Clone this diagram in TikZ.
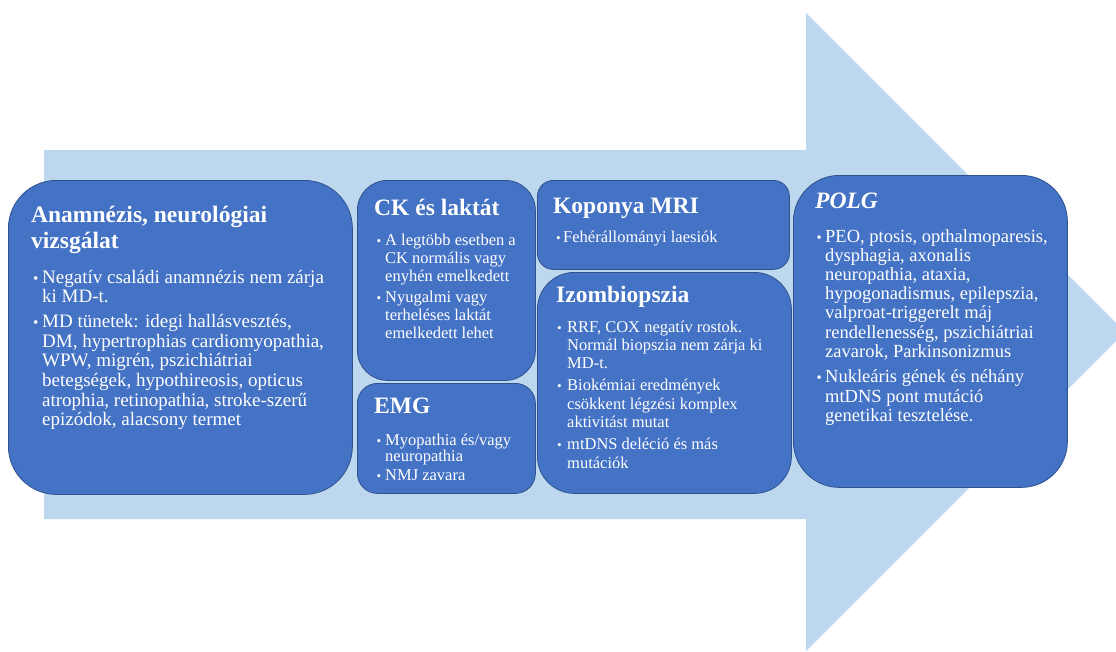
\documentclass[tikz,border=0pt]{standalone}
\usepackage{fontspec}
\setmainfont{Liberation Serif}
\usepackage{graphicx}
\definecolor{arrowc}{HTML}{BDD7EE}
\definecolor{boxc}{HTML}{4472C4}
\definecolor{boxl}{HTML}{2F528F}
\newcommand\bl{\scalebox{0.8}{\textbullet}}
\newcommand\bb[1]{\makebox[#1][l]{\bl}}
\tikzset{
  panel/.style={draw=boxl, line width=0.8pt, fill=boxc, inner sep=0pt, anchor=north west},
  ttl/.style={text=white, anchor=base west, inner sep=0pt, font=\fontsize{23.5}{26}\selectfont\bfseries},
  bod/.style={text=white, anchor=base west, inner sep=0pt},
}
\begin{document}
\begin{tikzpicture}[x=1pt,y=-1pt]
\useasboundingbox (0,0) rectangle (1116,651);
\clip (0,0) rectangle (1116,651);
% big arrow
\fill[arrowc] (44,150) -- (806,150) -- (806,13) -- (1125,332) -- (806,651) -- (806,519) -- (44,519) -- cycle;
% panels
\node[panel, minimum width=344pt, minimum height=314pt, rounded corners=48pt] (b1) at (8,180) {};
\node[panel, minimum width=178pt, minimum height=200pt, rounded corners=30pt] (b2) at (357,180) {};
\node[panel, minimum width=178pt, minimum height=110pt, rounded corners=20pt] (b3) at (357,383) {};
\node[panel, minimum width=252pt, minimum height=89pt, rounded corners=16pt] (b4) at (537,180) {};
\node[panel, minimum width=254pt, minimum height=221pt, rounded corners=37pt] (b5) at (537,272) {};
\node[panel, minimum width=274pt, minimum height=312pt, rounded corners=46pt] (b6) at (793,175) {};
% titles
\node[ttl] (t1) at (31,222) {\begin{tabular}[t]{@{}l@{}}Anamnézis, neurológiai\\vizsgálat\end{tabular}};
\node[ttl] (t2) at (374,215) {CK és laktát};
\node[ttl] (t3) at (374,413) {EMG};
\node[ttl] (t4) at (553,213) {Koponya MRI};
\node[ttl] (t5) at (556,302) {Izombiopszia};
\node[ttl, font=\fontsize{23.5}{26}\selectfont\bfseries\itshape] (t6) at (815,208) {POLG};
% bodies
\node[bod, font=\fontsize{19}{19.7}\selectfont] (c1) at (33,283) {\begin{tabular}[t]{@{}l@{}l@{}}
\bb{9pt} & Negatív családi anamnézis nem zárja\\
 & ki MD-t.\\[5pt]
\bb{9pt} & MD tünetek: idegi hallásvesztés,\\
 & DM, hypertrophias cardiomyopathia,\\
 & WPW, migrén, pszichiátriai\\
 & betegségek, hypothireosis, opticus\\
 & atrophia, retinopathia, stroke-szerű\\
 & epizódok, alacsony termet
\end{tabular}};
\node[bod, font=\fontsize{16.5}{18}\selectfont] (c2) at (376.5,245) {\begin{tabular}[t]{@{}l@{}l@{}}
\bb{8.5pt} & A legtöbb esetben a\\
 & CK normális vagy\\
 & enyhén emelkedett\\[3pt]
\bb{8.5pt} & Nyugalmi vagy\\
 & terheléses laktát\\
 & emelkedett lehet
\end{tabular}};
\node[bod, font=\fontsize{16.5}{16.5}\selectfont] (c3) at (376.5,445) {\begin{tabular}[t]{@{}l@{}l@{}}
\bb{8.5pt} & Myopathia és/vagy\\
 & neuropathia\\[2.5pt]
\bb{8.5pt} & NMJ zavara
\end{tabular}};
\node[bod, font=\fontsize{16.5}{18}\selectfont] (c4) at (556,242) {\bb{7pt}Fehérállományi laesiók};
\node[bod, font=\fontsize{16.5}{18.3}\selectfont] (c5) at (557,332) {\begin{tabular}[t]{@{}l@{}l@{}}
\bb{10pt} & RRF, COX negatív rostok.\\
 & Normál biopszia nem zárja ki\\
 & MD-t.\\[4pt]
\bb{10pt} & Biokémiai eredmények\\
 & csökkent légzési komplex\\
 & aktivitást mutat\\[4pt]
\bb{10pt} & mtDNS deléció és más\\
 & mutációk
\end{tabular}};
\node[bod, font=\fontsize{18.5}{19.2}\selectfont] (c6) at (816.5,242) {\begin{tabular}[t]{@{}l@{}l@{}}
\bb{8.5pt} & PEO, ptosis, opthalmoparesis,\\
 & dysphagia, axonalis\\
 & neuropathia, ataxia,\\
 & hypogonadismus, epilepszia,\\
 & valproat-triggerelt máj\\
 & rendellenesség, pszichiátriai\\
 & zavarok, Parkinsonizmus\\[6.5pt]
\bb{8.5pt} & Nukleáris gének és néhány\\
 & mtDNS pont mutáció\\
 & genetikai tesztelése.
\end{tabular}};
\end{tikzpicture}
\end{document}
